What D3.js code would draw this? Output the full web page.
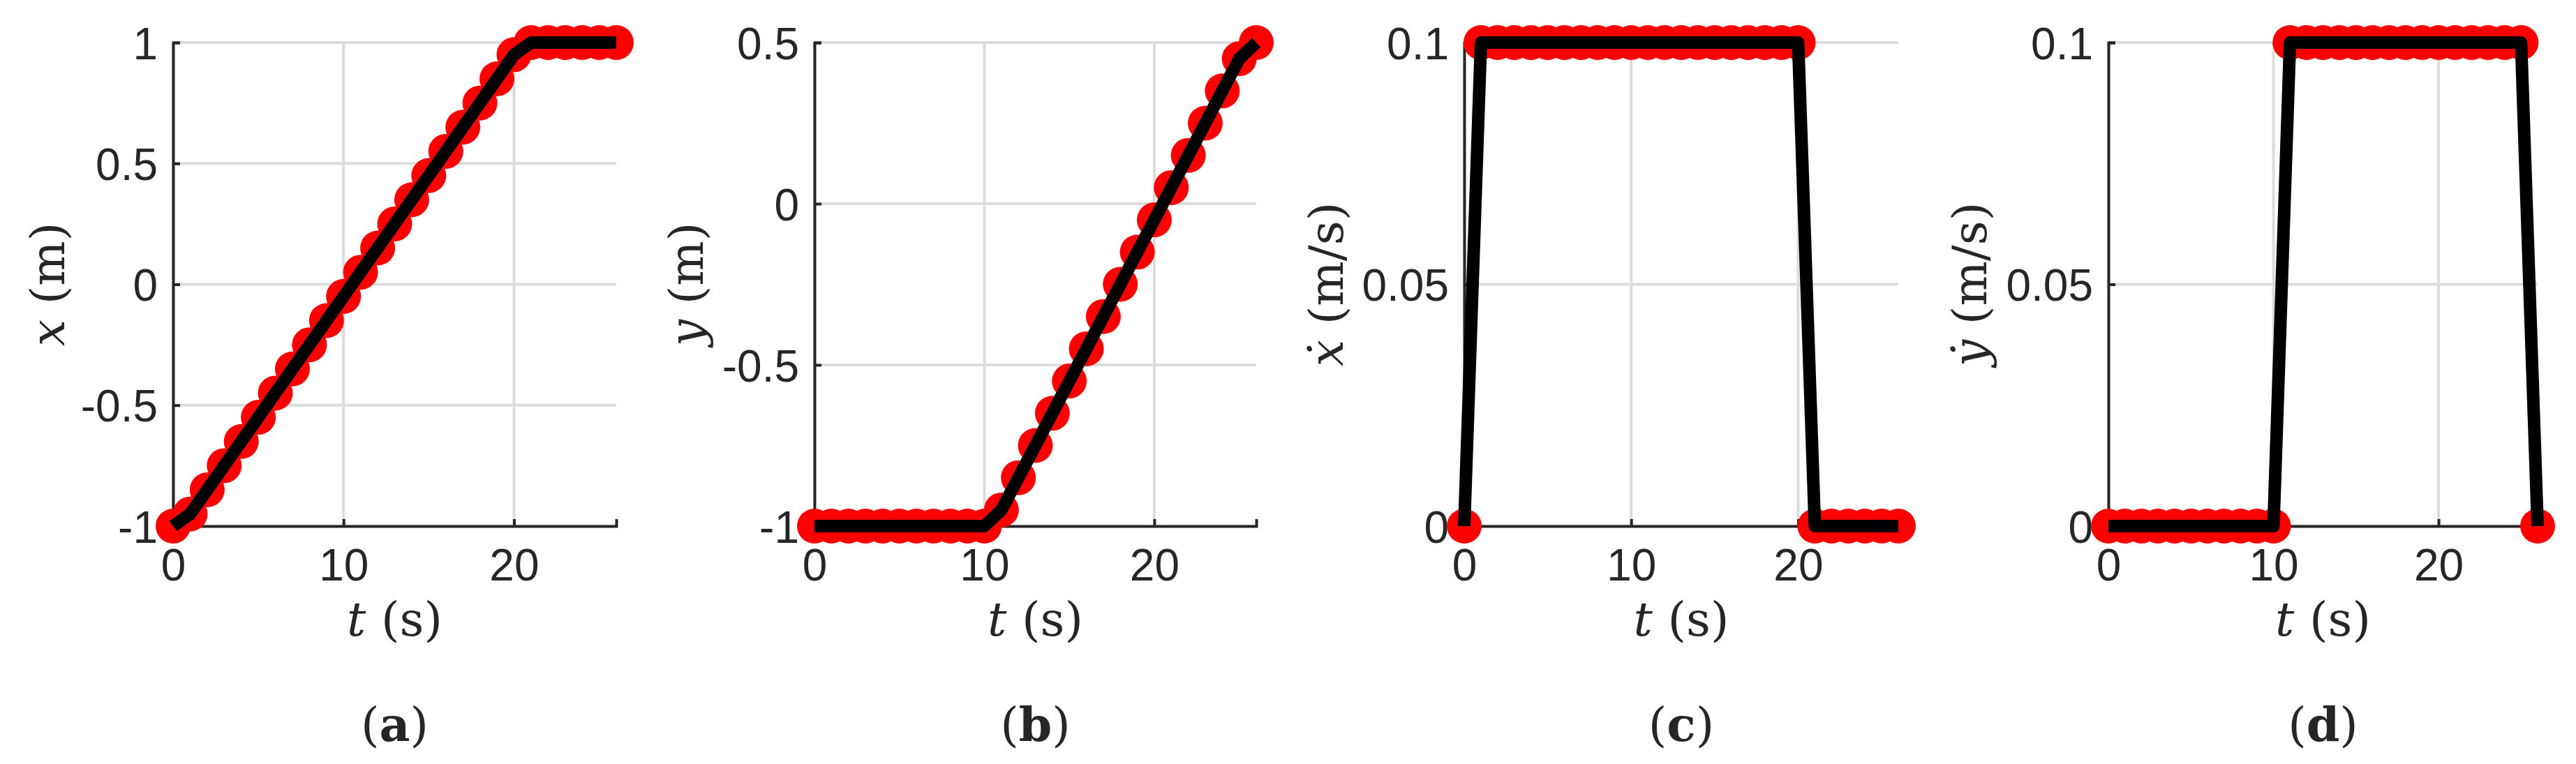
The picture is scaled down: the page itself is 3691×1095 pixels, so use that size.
<!DOCTYPE html>
<html>
<head>
<meta charset="utf-8">
<script src="https://cdn.jsdelivr.net/npm/d3@7"></script>
<style>
  body { margin: 0; background: #fff; }
  .tick text { font-family: "Liberation Sans", Arial, sans-serif; font-size: 64px; fill: #262626; }
  .lbl { font-family: "DejaVu Serif", "Liberation Serif", serif; font-size: 68px; fill: #262626; }
</style>
</head>
<body>
<svg id="chart" width="3691" height="1095"></svg>
<script>
// time samples (s)
const t = [0,1,2,3,4,5,6,7,8,9,10,11,12,13,14,15,16,17,18,19,20,21,22,23,24,25,26];

// x position (m)
const xPos = [-1,-0.95,-0.85,-0.75,-0.65,-0.55,-0.45,-0.35,-0.25,-0.15,-0.05,0.05,0.15,0.25,0.35,0.45,0.55,0.65,0.75,0.85,0.95,1,1,1,1,1,1];
// y position (m)
const yPos = [-1,-1,-1,-1,-1,-1,-1,-1,-1,-1,-1,-0.95,-0.85,-0.75,-0.65,-0.55,-0.45,-0.35,-0.25,-0.15,-0.05,0.05,0.15,0.25,0.35,0.45,0.5];
// x velocity (m/s)
const xVel = [0,0.1,0.1,0.1,0.1,0.1,0.1,0.1,0.1,0.1,0.1,0.1,0.1,0.1,0.1,0.1,0.1,0.1,0.1,0.1,0.1,0,0,0,0,0,0];
// y velocity (m/s)
const yVel = [0,0,0,0,0,0,0,0,0,0,0,0.1,0.1,0.1,0.1,0.1,0.1,0.1,0.1,0.1,0.1,0.1,0.1,0.1,0.1,0.1,0];

const xTicks = [0, 10, 20];

const panels = [
  { vals: xPos, left: 248, right: 883, dom: [-1, 1], ticks: [-1,-0.5,0,0.5,1], sym: "x", unit: "(m)", dot: false, cap: "a", ylx: 70 },
  { vals: yPos, left: 1167, right: 1800, dom: [-1, 0.5], ticks: [-1,-0.5,0,0.5], sym: "y", unit: "(m)", dot: false, cap: "b", ylx: 985 },
  { vals: xVel, left: 2098, right: 2720, dom: [0, 0.1], ticks: [0,0.05,0.1], sym: "x", unit: "(m/s)", dot: true, cap: "c", ylx: 1902 },
  { vals: yVel, left: 3021, right: 3636, dom: [0, 0.1], ticks: [0,0.05,0.1], sym: "y", unit: "(m/s)", dot: true, cap: "d", ylx: 2824 }
];

const plotTop = 61, plotBottom = 754;
const svg = d3.select('#chart');

panels.forEach(function(p) {
  const x = d3.scaleLinear().domain([0, 26]).range([p.left, p.right]);
  const y = d3.scaleLinear().domain(p.dom).range([plotBottom, plotTop]);
  const g = svg.append('g');

  // grid
  g.selectAll('.gx').data(xTicks).enter().append('line')
    .attr('x1', d => x(d)).attr('x2', d => x(d)).attr('y1', plotTop).attr('y2', plotBottom)
    .attr('stroke', '#dcdcdc').attr('stroke-width', 4);
  g.selectAll('.gy').data(p.ticks).enter().append('line')
    .attr('x1', p.left).attr('x2', p.right).attr('y1', d => y(d)).attr('y2', d => y(d))
    .attr('stroke', '#dcdcdc').attr('stroke-width', 4);

  // axes
  const fmt = d => String(d);
  const ax = g.append('g').attr('transform', 'translate(0,' + plotBottom + ')')
    .call(d3.axisBottom(x).tickValues(xTicks).tickSize(-10).tickPadding(30).tickFormat(d => d));
  const ay = g.append('g').attr('transform', 'translate(' + p.left + ',0)')
    .call(d3.axisLeft(y).tickValues(p.ticks).tickSize(-10).tickPadding(22).tickFormat(fmt));
  [ax, ay].forEach(a => {
    a.select('.domain').attr('stroke', '#262626').attr('stroke-width', 4);
    a.selectAll('.tick line').attr('stroke', '#262626').attr('stroke-width', 4);
  });
  ax.selectAll('.tick text').attr('dy', '0.75em');
  ay.selectAll('.tick text').attr('dy', '0.36em');

  // markers
  g.selectAll('.m').data(t).enter().append('circle')
    .attr('cx', (d) => x(d)).attr('cy', (d, i) => y(p.vals[i])).attr('r', 25).attr('fill', '#ff0000');

  // line
  const line = d3.line().x((d) => x(d)).y((d, i) => y(p.vals[i]));
  g.append('path').datum(t).attr('d', line).attr('fill', 'none')
    .attr('stroke', '#000').attr('stroke-width', 18).attr('stroke-linejoin', 'round');

  // x label
  const mid = (p.left + p.right) / 2;
  const xl = g.append('text').attr('class', 'lbl').attr('x', mid).attr('y', 911).attr('text-anchor', 'middle');
  xl.append('tspan').attr('font-style', 'italic').text('t');
  xl.append('tspan').text(' (s)');

  // y label
  const yl = g.append('text').attr('class', 'lbl').attr('text-anchor', 'middle')
    .attr('transform', 'translate(' + (p.ylx + 22) + ',' + ((plotTop + plotBottom) / 2) + ') rotate(-90)');
  yl.append('tspan').attr('font-style', 'italic').text(p.dot ? (p.sym === 'x' ? 'ẋ' : 'ẏ') : p.sym);
  yl.append('tspan').text(' ' + p.unit);

  // caption
  const cp = g.append('text').attr('class', 'lbl').attr('x', mid).attr('y', 1062).attr('text-anchor', 'middle');
  cp.append('tspan').text('(');
  cp.append('tspan').attr('font-weight', 'bold').text(p.cap);
  cp.append('tspan').text(')');
});
</script>
</body>
</html>
